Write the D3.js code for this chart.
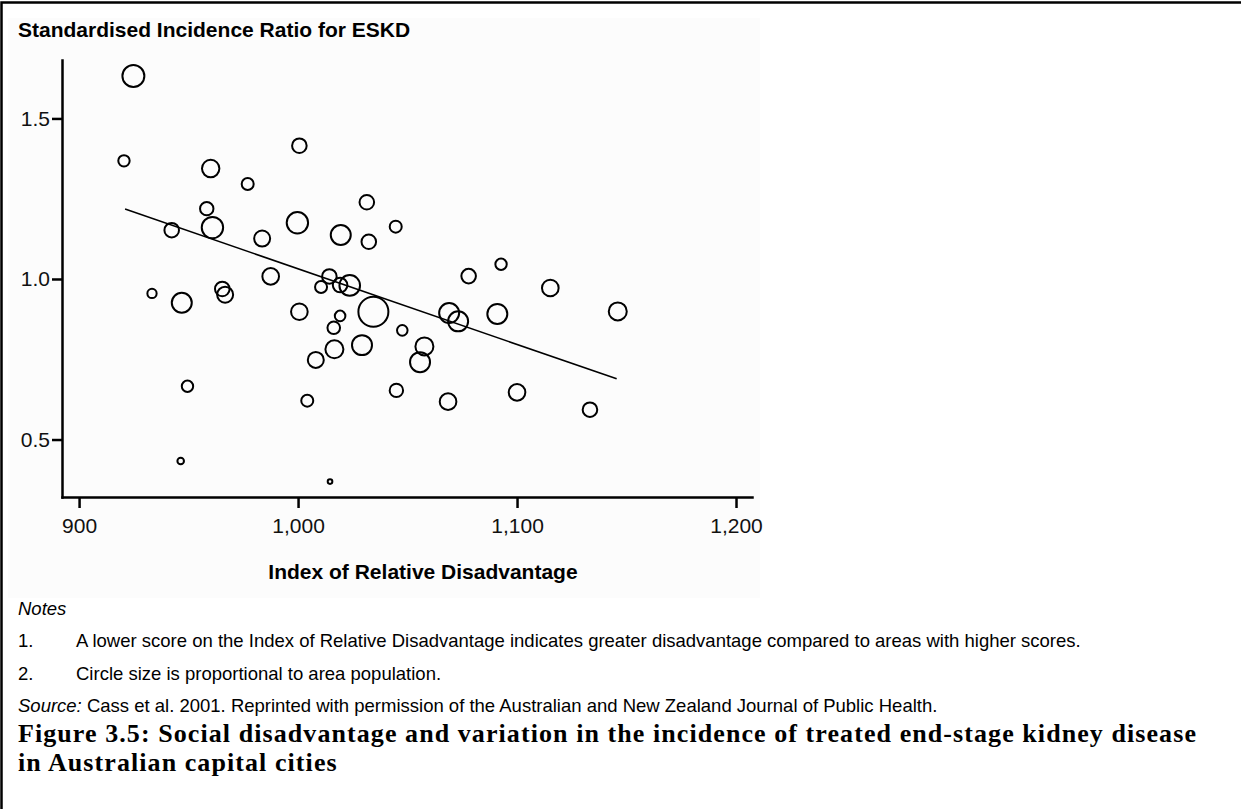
<!DOCTYPE html>
<html>
<head>
<meta charset="utf-8">
<script src="https://cdn.jsdelivr.net/npm/d3@7"></script>
<style>
  body { margin: 0; background: #fff; }
  svg { display: block; }
  .tick text { font-family: "Liberation Sans", Arial, sans-serif; font-size: 21px; fill: #111; }
  .axis path, .axis line { stroke: #000; stroke-width: 2.5px; }
  .label { font-family: "Liberation Sans", Arial, sans-serif; font-weight: bold; font-size: 21px; fill: #000; }
  .note { font-family: "Liberation Sans", Arial, sans-serif; font-size: 18.5px; fill: #000; }
  .fig-title { font-family: "Liberation Serif", "Times New Roman", serif; font-weight: bold; font-size: 26px; fill: #000; }
</style>
</head>
<body>
<div id="chart"></div>
<script>
// Index of Relative Disadvantage score for each area
const irdScore = [924.8, 920.5, 1000.6, 960.1, 977.0, 1031.4, 958.3, 1044.6, 942.3, 960.9,
  983.6, 999.7, 1019.5, 1032.3, 1077.9, 1092.7, 1115.2, 1146.0, 1069.0, 1073.1,
  1091.0, 1047.6, 1057.7, 1055.7, 1044.9, 1068.5, 1100.0, 1133.3, 933.3, 946.9,
  965.4, 966.7, 987.5, 1014.3, 1010.5, 1019.2, 1023.6, 1000.6, 1034.4, 1019.2,
  1016.3, 1016.6, 1029.2, 1008.1, 949.5, 1004.2, 946.4, 1014.6];

// Standardised incidence ratio for ESKD
const sirValue = [1.632, 1.368, 1.415, 1.344, 1.296, 1.239, 1.219, 1.163, 1.152, 1.160,
  1.126, 1.175, 1.137, 1.116, 1.009, 1.046, 0.972, 0.899, 0.894, 0.868,
  0.891, 0.840, 0.790, 0.741, 0.653, 0.618, 0.647, 0.593, 0.955, 0.926,
  0.969, 0.951, 1.008, 1.008, 0.975, 0.981, 0.980, 0.898, 0.898, 0.885,
  0.848, 0.781, 0.794, 0.748, 0.666, 0.621, 0.433, 0.369];

// area population (relative units, circle area)
const population = [134, 36, 59, 84, 40, 59, 50, 40, 59, 127,
  71, 127, 111, 59, 59, 36, 77, 90, 111, 111,
  111, 31, 90, 111, 50, 77, 77, 59, 24, 111,
  59, 71, 77, 59, 40, 59, 118, 77, 250, 31,
  44, 90, 111, 71, 36, 40, 12, 6];

// fitted trend line end points
const trendX = [921, 1145.5];
const trendY = [1.218, 0.689];

const xTicks = [900, 1000, 1100, 1200];
const yTicks = [0.5, 1.0, 1.5];

const notes = [
  "A lower score on the Index of Relative Disadvantage indicates greater disadvantage compared to areas with higher scores.",
  "Circle size is proportional to area population."
];
const figTitle = [
  "Figure 3.5: Social disadvantage and variation in the incidence of treated end-stage kidney disease",
  "in Australian capital cities"
];

const W = 1241, H = 809;

const svg = d3.select("#chart")
  .append("svg")
  .attr("width", W)
  .attr("height", H);

// frame
svg.append("path")
  .attr("d", "M1.5,809 V2.5 H1241")
  .attr("fill", "none")
  .attr("stroke", "#000")
  .attr("stroke-width", 2.5);

// faint background of the embedded chart picture
svg.append("rect")
  .attr("x", 8).attr("y", 18)
  .attr("width", 752).attr("height", 580)
  .attr("fill", "#fcfcfc");

const xScale = d3.scaleLinear().domain([892.2, 1207.3]).range([62, 752]);
const yScale = d3.scaleLinear().domain([0.321, 1.682]).range([497, 60]);
const rScale = d3.scaleSqrt().domain([0, 250]).range([0, 15]);

svg.append("g")
  .attr("class", "axis")
  .attr("transform", "translate(0,497)")
  .call(d3.axisBottom(xScale)
    .tickValues(xTicks)
    .tickFormat(d3.format(","))
    .tickSize(11)
    .tickSizeOuter(0)
    .tickPadding(10));

svg.append("g")
  .attr("class", "axis")
  .attr("transform", "translate(62,0)")
  .call(d3.axisLeft(yScale)
    .tickValues(yTicks)
    .tickFormat(d3.format(".1f"))
    .tickSize(10)
    .tickSizeOuter(0)
    .tickPadding(2));

svg.selectAll(".axis .domain").attr("stroke-linecap", "square");

// trend line
const line = d3.line()
  .x(function(d) { return xScale(d[0]); })
  .y(function(d) { return yScale(d[1]); });

svg.append("path")
  .datum(d3.zip(trendX, trendY))
  .attr("d", line)
  .attr("fill", "none")
  .attr("stroke", "#000")
  .attr("stroke-width", 1.6);

// bubbles
svg.append("g")
  .selectAll("circle")
  .data(d3.range(irdScore.length))
  .enter()
  .append("circle")
  .attr("cx", function(i) { return xScale(irdScore[i]); })
  .attr("cy", function(i) { return yScale(sirValue[i]); })
  .attr("r", function(i) { return rScale(population[i]); })
  .attr("fill", "none")
  .attr("stroke", "#000")
  .attr("stroke-width", 2);

// axis titles
svg.append("text")
  .attr("class", "label")
  .attr("x", 18)
  .attr("y", 37)
  .text("Standardised Incidence Ratio for ESKD");

svg.append("text")
  .attr("class", "label")
  .attr("x", 423)
  .attr("y", 579)
  .attr("text-anchor", "middle")
  .text("Index of Relative Disadvantage");

// notes
svg.append("text")
  .attr("class", "note")
  .attr("x", 18)
  .attr("y", 615)
  .style("font-style", "italic")
  .text("Notes");

notes.forEach(function(t, i) {
  svg.append("text")
    .attr("class", "note")
    .attr("x", 18)
    .attr("y", 647 + i * 33)
    .text((i + 1) + ".");
  svg.append("text")
    .attr("class", "note")
    .attr("x", 76)
    .attr("y", 647 + i * 33)
    .text(t);
});

const src = svg.append("text")
  .attr("class", "note")
  .attr("x", 18)
  .attr("y", 712);
src.append("tspan").style("font-style", "italic").text("Source:");
src.append("tspan").text(" Cass et al. 2001. Reprinted with permission of the Australian and New Zealand Journal of Public Health.");

const titles = svg.selectAll(".fig-title")
  .data(figTitle)
  .enter()
  .append("text")
  .attr("class", "fig-title")
  .attr("x", 18)
  .attr("y", function(d, i) { return 742 + i * 29; })
  .text(function(d) { return d; });

// the original serif is wider set: spread letters so line one ends near x = 1197
const firstLen = titles.node().getComputedTextLength();
const spread = (1179 - firstLen) / figTitle[0].length;
titles.style("letter-spacing", spread + "px");
</script>
</body>
</html>
